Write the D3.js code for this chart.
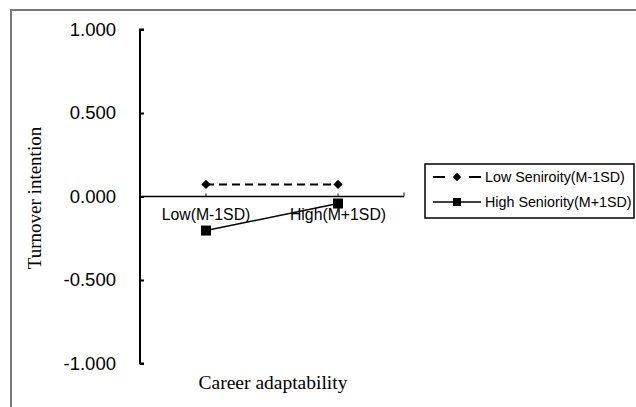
<!DOCTYPE html>
<html>
<head>
<meta charset="utf-8">
<script src="https://cdn.jsdelivr.net/npm/d3@7"></script>
<style>
 body{margin:0;background:#fff;}
 svg{display:block;}
</style>
</head>
<body>
<svg id="chart" width="636" height="407"></svg>
<script>
var categories=["Low(M-1SD)","High(M+1SD)"];
var lowSeniority=[0.072,0.072];
var highSeniority=[-0.204,-0.042];
var seriesNames=["Low Seniroity(M-1SD)","High Seniority(M+1SD)"];
var yTicks=[1,0.5,0,-0.5,-1];

var svg=d3.select("#chart");

// outer frame (cut off at right and bottom)
svg.append("path").attr("d","M11,407V10H640").attr("fill","none").attr("stroke","#777").attr("stroke-width",2);

var x=d3.scaleBand().domain(categories).range([140,404]);
var y=d3.scaleLinear().domain([-1,1]).range([363.5,29.5]);

// y axis
var gy=svg.append("g").attr("transform","translate(140,0)")
 .call(d3.axisRight(y).tickValues(yTicks).tickSize(4).tickFormat(""));
gy.select(".domain").attr("d","M4,"+y(1)+"H0V"+y(-1)+"H4").attr("stroke","#000").attr("stroke-width",2);
gy.selectAll(".tick line").attr("stroke","#000").attr("stroke-width",2);
svg.append("g").selectAll("text").data(yTicks).join("text")
 .attr("x",116).attr("y",function(d){return y(d);}).attr("dy","0.35em")
 .attr("text-anchor","end").attr("font-family","Liberation Sans, Arial, sans-serif").attr("font-size",18.5)
 .text(function(d){return d3.format(".3f")(d).replace("\u2212","-");});

// x axis at zero
var gx=svg.append("g").attr("transform","translate(0,"+y(0)+")");
gx.append("line").attr("x1",140).attr("x2",404).attr("stroke","#000").attr("stroke-width",1.5);
gx.selectAll("line.t").data(categories).join("line").attr("class","t")
 .attr("x1",function(d){return x(d)+x.bandwidth()/2;}).attr("x2",function(d){return x(d)+x.bandwidth()/2;})
 .attr("y1",0).attr("y2",-3).attr("stroke","#000").attr("stroke-width",1);
gx.append("line").attr("x1",404).attr("x2",404).attr("y1",0).attr("y2",-4).attr("stroke","#000").attr("stroke-width",1);
gx.selectAll("text").data(categories).join("text")
 .attr("x",function(d){return x(d)+x.bandwidth()/2;}).attr("y",23)
 .attr("text-anchor","middle").attr("font-family","Liberation Sans, Arial, sans-serif").attr("font-size",15.8)
 .text(function(d){return d;});

var cx=function(d,i){return x(categories[i])+x.bandwidth()/2;};
var line=d3.line().x(function(d,i){return cx(d,i);}).y(function(d){return y(d);});

// low seniority dashed with diamonds
svg.append("path").datum(lowSeniority).attr("d",line).attr("fill","none")
 .attr("stroke","#000").attr("stroke-width",2.2).attr("stroke-dasharray","8,5");
svg.append("g").selectAll("path").data(lowSeniority).join("path")
 .attr("d",d3.symbol(d3.symbolDiamond2,55)())
 .attr("transform",function(d,i){return "translate("+cx(d,i)+","+y(d)+")";})
 .attr("fill","#000");

// high seniority solid with squares
svg.append("path").datum(highSeniority).attr("d",line).attr("fill","none")
 .attr("stroke","#000").attr("stroke-width",1.5);
svg.append("g").selectAll("rect").data(highSeniority).join("rect")
 .attr("x",function(d,i){return cx(d,i)-5;}).attr("y",function(d){return y(d)-5;})
 .attr("width",10).attr("height",10).attr("fill","#000");

// axis titles
svg.append("text").attr("transform","translate(41,198) rotate(-90)").attr("text-anchor","middle")
 .attr("font-family","Liberation Serif, Times New Roman, serif").attr("font-size",19).text("Turnover intention");
svg.append("text").attr("x",273).attr("y",389).attr("text-anchor","middle")
 .attr("font-family","Liberation Serif, Times New Roman, serif").attr("font-size",19.5).text("Career adaptability");

// legend
var lg=svg.append("g");
lg.append("rect").attr("x",425).attr("y",164).attr("width",209).attr("height",54)
 .attr("fill","#fff").attr("stroke","#000").attr("stroke-width",1.5);
var rows=[177,202];
lg.append("line").attr("x1",433).attr("x2",481).attr("y1",rows[0]).attr("y2",rows[0])
 .attr("stroke","#000").attr("stroke-width",2).attr("stroke-dasharray","12,24");
lg.append("path").attr("d",d3.symbol(d3.symbolDiamond2,45)()).attr("transform","translate(457,"+rows[0]+")").attr("fill","#000");
lg.append("line").attr("x1",433).attr("x2",481).attr("y1",rows[1]).attr("y2",rows[1])
 .attr("stroke","#000").attr("stroke-width",1.5);
lg.append("rect").attr("x",453).attr("y",rows[1]-4).attr("width",8).attr("height",8).attr("fill","#000");
lg.selectAll("text").data(seriesNames).join("text")
 .attr("x",485).attr("y",function(d,i){return rows[i];}).attr("dy","0.35em")
 .attr("font-family","Liberation Sans, Arial, sans-serif").attr("font-size",14.3)
 .text(function(d){return d;});
</script>
</body>
</html>
